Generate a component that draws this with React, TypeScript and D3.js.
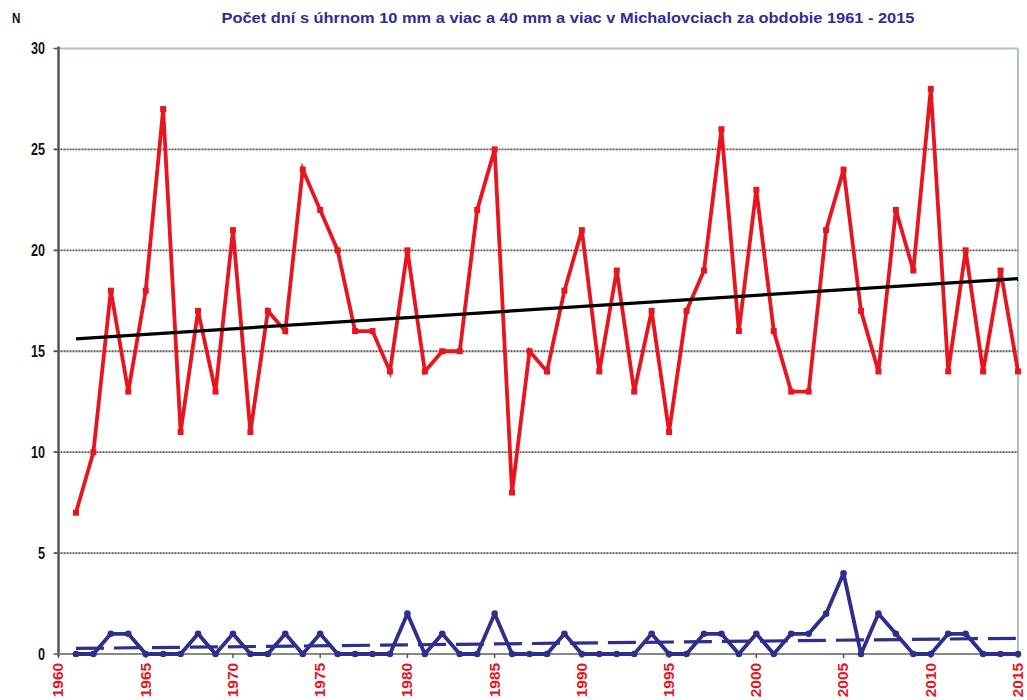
import React from "react";
import * as d3 from "d3";

const years: number[] = d3.range(1961, 2016);
const days10mm: number[] = [
  7, 10, 18, 13, 18, 27, 11, 17, 13, 21,
  11, 17, 16, 24, 22, 20, 16, 16, 14, 20,
  14, 15, 15, 22, 25, 8, 15, 14, 18, 21,
  14, 19, 13, 17, 11, 17, 19, 26, 16, 23,
  16, 13, 13, 21, 24, 17, 14, 22, 19, 28,
  14, 20, 14, 19, 14,
];
const days40mm: number[] = [
  0, 0, 1, 1, 0, 0, 0, 1, 0, 1,
  0, 0, 1, 0, 1, 0, 0, 0, 0, 2,
  0, 1, 0, 0, 2, 0, 0, 0, 1, 0,
  0, 0, 0, 1, 0, 0, 1, 1, 0, 1,
  0, 1, 1, 2, 4, 0, 2, 1, 0, 0,
  1, 1, 0, 0, 0,
];
const yTicks: number[] = [0, 5, 10, 15, 20, 25, 30];
const xTicks: number[] = [1960, 1965, 1970, 1975, 1980, 1985, 1990, 1995, 2000, 2005, 2010, 2015];
const title = "Počet dní s úhrnom 10 mm a viac a 40 mm a viac v Michalovciach za obdobie 1961 - 2015";

function regression(xs: number[], ys: number[]) {
  const mx = d3.mean(xs)!;
  const my = d3.mean(ys)!;
  let num = 0, den = 0;
  xs.forEach((x, i) => { num += (x - mx) * (ys[i] - my); den += (x - mx) * (x - mx); });
  const b = num / den;
  const a = my - b * mx;
  return (x: number) => a + b * x;
}

export default function App() {
  const W = 1027, H = 700;
  const x = d3.scaleLinear().domain([1960, 2015]).range([58.5, 1018]);
  const y = d3.scaleLinear().domain([0, 30]).range([654, 48.5]);
  const line = d3.line<number>().x((_, i) => x(years[i])).y((d) => y(d));
  const redTrend = regression(years, days10mm);
  const blueTrend = regression(years, days40mm);
  const x0 = years[0], x1 = years[years.length - 1];
  const font = "'Liberation Sans', Arial, sans-serif";
  return (
    <svg width={W} height={H} style={{ position: "absolute", left: 0, top: 0, background: "#fff" }}>
      <rect x={0} y={0} width={W} height={H} fill="#fff" />
      <text x={12} y={23} fontFamily={font} fontWeight="bold" fontSize={13} fill="#111"
        transform="translate(12 23) scale(0.9 1.15) translate(-12 -23)">N</text>
      <text x={568} y={23} textAnchor="middle" fontFamily={font} fontWeight="bold" fontSize={15}
        fill="#2e2e96" textLength={693} lengthAdjust="spacingAndGlyphs">{title}</text>
      {/* plot border top/right */}
      <line x1={x(1960)} x2={x(2015)} y1={y(30)} y2={y(30)} stroke="#a9c1d3" strokeWidth={2} />
      <line x1={x(2015)} x2={x(2015)} y1={y(30)} y2={y(0)} stroke="#a9c1d3" strokeWidth={2} />
      {/* gridlines */}
      {yTicks.filter((t) => t > 0 && t < 30).map((t) => (
        <line key={t} x1={x(1960) - 4} x2={x(2015)} y1={y(t)} y2={y(t)} stroke="#555" strokeWidth={1.8} strokeDasharray="2,1" />
      ))}
      {/* y ticks */}
      {yTicks.map((t) => (
        <g key={"yt" + t}>
          <line x1={x(1960) - 5} x2={x(1960)} y1={y(t)} y2={y(t)} stroke="#555" strokeWidth={1.5} />
          <text x={45} y={y(t)} dy="0.36em" textAnchor="end" fontFamily={font} fontWeight="bold" fontSize={14} fill="#111"
            transform={`translate(45 ${y(t)}) scale(0.9 1.15) translate(-45 ${-y(t)})`}>{t}</text>
        </g>
      ))}
      {/* axes */}
      <line x1={x(1960)} x2={x(1960)} y1={y(30) - 2} y2={y(0) + 2} stroke="#555" strokeWidth={2.5} />
      <line x1={x(1960)} x2={x(2015)} y1={y(0)} y2={y(0)} stroke="#888" strokeWidth={2} />
      {/* x ticks */}
      {xTicks.map((t) => (
        <g key={"xt" + t}>
          <line x1={x(t)} x2={x(t)} y1={y(0)} y2={y(0) + 4} stroke="#555" strokeWidth={1.5} />
          <text transform={`translate(${x(t)} ${y(0) + 9}) rotate(-90) scale(1.1 1.0)`} textAnchor="end" dy="0.35em"
            fontFamily={font} fontWeight="bold" fontSize={14} fill="#e8141e">{t}</text>
        </g>
      ))}
      {/* red series */}
      <path d={line(days10mm) || ""} fill="none" stroke="#e8141e" strokeWidth={3.8} strokeLinejoin="miter" />
      {days10mm.map((d, i) => (
        <rect key={"r" + i} x={x(years[i]) - 3} y={y(d) - 3} width={6} height={6} fill="#e8141e" />
      ))}
      <line x1={x(x0)} x2={x(x1)} y1={y(redTrend(x0))} y2={y(redTrend(x1))} stroke="#000" strokeWidth={3.2} />
      {/* blue series */}
      <line x1={x(x0)} x2={x(x1)} y1={y(blueTrend(x0))} y2={y(blueTrend(x1))} stroke="#2e2e8c" strokeWidth={3.2} strokeDasharray="28,10" />
      <path d={line(days40mm) || ""} fill="none" stroke="#2e2e8c" strokeWidth={3.8} strokeLinejoin="round" />
      {days40mm.map((d, i) => (
        <circle key={"b" + i} cx={x(years[i])} cy={y(d)} r={3.3} fill="#2e2e8c" />
      ))}
    </svg>
  );
}
